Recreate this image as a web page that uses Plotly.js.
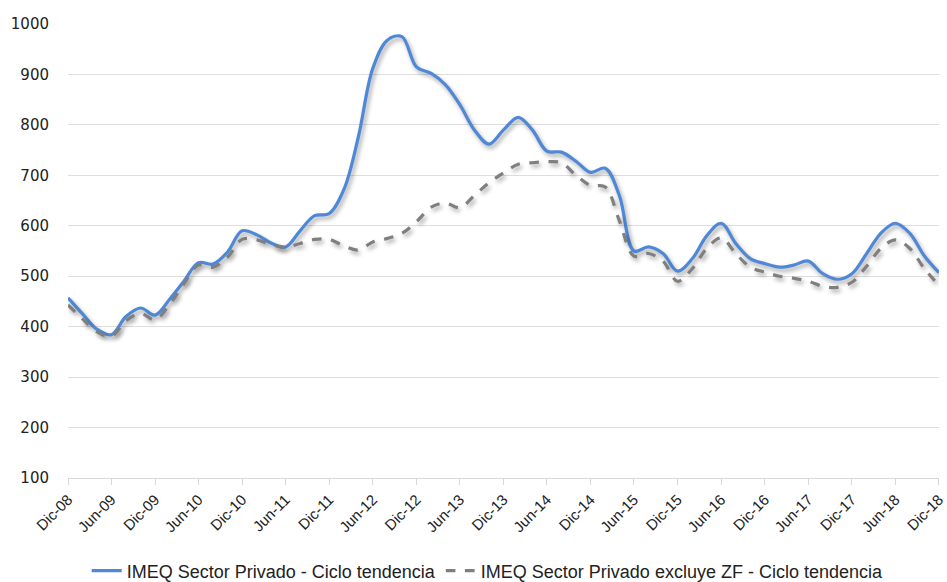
<!DOCTYPE html>
<html>
<head>
<meta charset="utf-8">
<script src="https://cdn.plot.ly/plotly-3.0.1.min.js"></script>
<style>
html,body{margin:0;padding:0;background:#fff;}
#chart{width:947px;height:582px;}
.scatterlayer .trace path.js-line{filter:drop-shadow(2px 3px 2px rgba(0,0,0,0.35));}
</style>
</head>
<body>
<div id="chart"></div>
<script>
// Dates every two months, Dec-2008 .. Dec-2018
const dates = [
 "2008-12-01","2009-02-01","2009-04-01","2009-06-01","2009-08-01","2009-10-01",
 "2009-12-01","2010-02-01","2010-04-01","2010-06-01","2010-08-01","2010-10-01",
 "2010-12-01","2011-02-01","2011-04-01","2011-06-01","2011-08-01","2011-10-01",
 "2011-12-01","2012-02-01","2012-04-01","2012-06-01","2012-08-01","2012-10-01",
 "2012-12-01","2013-02-01","2013-04-01","2013-06-01","2013-08-01","2013-10-01",
 "2013-12-01","2014-02-01","2014-04-01","2014-06-01","2014-08-01","2014-10-01",
 "2014-12-01","2015-02-01","2015-04-01","2015-06-01","2015-08-01","2015-10-01",
 "2015-12-01","2016-02-01","2016-04-01","2016-06-01","2016-08-01","2016-10-01",
 "2016-12-01","2017-02-01","2017-04-01","2017-06-01","2017-08-01","2017-10-01",
 "2017-12-01","2018-02-01","2018-04-01","2018-06-01","2018-08-01","2018-10-01",
 "2018-12-01"
];
const privado = [
 457,425,395,384,420,437,
 423,455,490,527,524,548,
 590,582,566,558,590,620,
 624,672,775,912,968,975,
 915,902,880,840,790,762,
 790,815,790,748,746,728,
 706,714,660,550,558,545,
 510,535,580,605,565,535,
 525,518,522,530,505,494,
 505,545,585,605,585,540,
 507
];
const excluyeZF = [
 443,415,390,381,412,426,
 414,445,485,522,518,538,
 573,572,563,557,565,573,
 573,560,552,568,575,585,
 608,637,645,636,660,685,
 705,722,725,727,725,700,
 680,677,610,540,545,530,
 490,515,555,576,545,518,
 508,500,496,490,480,478,
 488,520,555,572,555,515,
 482
];
const tickVals = [
 "2008-12-01","2009-06-01","2009-12-01","2010-06-01","2010-12-01","2011-06-01",
 "2011-12-01","2012-06-01","2012-12-01","2013-06-01","2013-12-01","2014-06-01",
 "2014-12-01","2015-06-01","2015-12-01","2016-06-01","2016-12-01","2017-06-01",
 "2017-12-01","2018-06-01","2018-12-01"
];
const tickText = [
 "Dic-08","Jun-09","Dic-09","Jun-10","Dic-10","Jun-11","Dic-11","Jun-12","Dic-12",
 "Jun-13","Dic-13","Jun-14","Dic-14","Jun-15","Dic-15","Jun-16","Dic-16","Jun-17",
 "Dic-17","Jun-18","Dic-18"
];
const yTicks = [100,200,300,400,500,600,700,800,900,1000];

const traces = [
 {x: dates, y: privado, type: "scatter", mode: "lines",
  name: "IMEQ Sector Privado - Ciclo tendencia",
  line: {color: "#4f88d6", width: 3.2, shape: "spline", smoothing: 1}},
 {x: dates, y: excluyeZF, type: "scatter", mode: "lines",
  name: "IMEQ Sector Privado excluye ZF - Ciclo tendencia",
  line: {color: "#7f7f7f", width: 3.2, dash: "dash", shape: "spline", smoothing: 1}}
];

const layout = {
 width: 947, height: 582,
 margin: {l: 68, r: 8, t: 24, b: 104},
 paper_bgcolor: "#fff", plot_bgcolor: "#fff",
 showlegend: true,
 legend: {orientation: "h", x: 0.515, xanchor: "center", xref: "container",
  y: 0.019, yanchor: "middle", yref: "container",
  font: {family: "Liberation Sans, Arial, sans-serif", size: 18, color: "#222"},
  traceorder: "normal"},
 xaxis: {type: "date", range: ["2008-12-01", "2018-12-01 06:00"], automargin: false,
  tickmode: "array", tickvals: tickVals, ticktext: tickText, tickangle: -45,
  ticklabeloverflow: "allow",
  tickfont: {family: "Liberation Sans, Arial, sans-serif", size: 15, color: "#222"},
  showgrid: false, showline: true, linecolor: "#d9d9d9", linewidth: 1,
  ticks: "outside", ticklen: 6, tickcolor: "#d9d9d9", zeroline: false},
 yaxis: {range: [100, 1000], tickmode: "array", tickvals: yTicks, automargin: false,
  tickfont: {family: "DejaVu Sans, Verdana, sans-serif", size: 15, color: "#222"},
  showgrid: true, gridcolor: "#dedede", gridwidth: 1, zeroline: false,
  showline: false, ticks: "", ticklabelstandoff: 18}
};

Plotly.newPlot("chart", traces, layout, {displayModeBar: false, staticPlot: true});
</script>
</body>
</html>
